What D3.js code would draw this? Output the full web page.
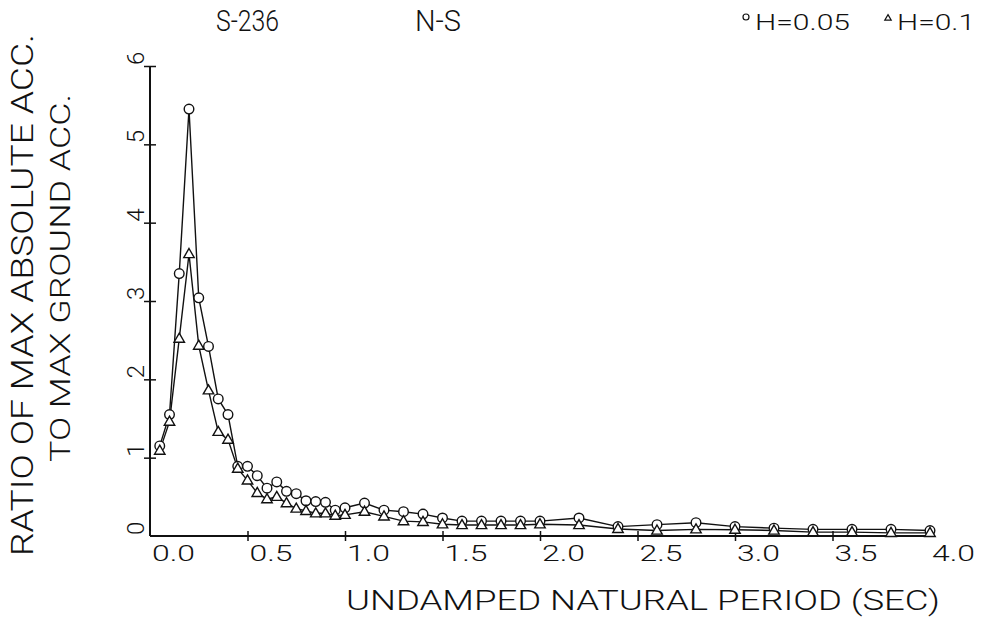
<!DOCTYPE html>
<html>
<head>
<meta charset="utf-8">
<script src="https://cdn.jsdelivr.net/npm/d3@7"></script>
<style>
  html, body { margin: 0; padding: 0; background: #fff; }
  svg text { font-family: Roboto, "DejaVu Sans", sans-serif; font-weight: 300; fill: #111; }
</style>
</head>
<body>
<svg id="chart" width="981" height="629"></svg>
<script>
// ---- data ----
const periods = [0.05,0.10,0.15,0.20,0.25,0.30,0.35,0.40,0.45,0.50,0.55,0.60,0.65,0.70,0.75,0.80,0.85,0.90,0.95,1.0,1.1,1.2,1.3,1.4,1.5,1.6,1.7,1.8,1.9,2.0,2.2,2.4,2.6,2.8,3.0,3.2,3.4,3.6,3.8,4.0];
const ratioH005 = [1.15,1.55,3.35,5.45,3.04,2.42,1.75,1.55,0.89,0.89,0.77,0.61,0.69,0.57,0.54,0.45,0.44,0.43,0.33,0.36,0.42,0.33,0.31,0.28,0.23,0.19,0.19,0.19,0.19,0.19,0.23,0.12,0.145,0.17,0.12,0.10,0.085,0.085,0.085,0.07];
const ratioH01  = [1.09,1.46,2.52,3.60,2.43,1.86,1.33,1.23,0.86,0.71,0.55,0.47,0.50,0.42,0.35,0.32,0.29,0.29,0.26,0.27,0.31,0.25,0.19,0.18,0.15,0.14,0.14,0.14,0.14,0.15,0.14,0.09,0.07,0.085,0.08,0.07,0.05,0.05,0.04,0.04];
const xTicks = [0,0.5,1.0,1.5,2.0,2.5,3.0,3.5,4.0];
const xTickLabels = ["0.0","0.5","1.0","1.5","2.0","2.5","3.0","3.5","4.0"];
const yTicks = [0,1,2,3,4,5,6];
const yTickLabels = ["0","1","2","3","4","5","6"];
const titleLeft = "S-236";
const titleMid = "N-S";
const legendLabels = ["H=0.05","H=0.1"];
const xTitle = "UNDAMPED NATURAL PERIOD (SEC)";
const yTitle1 = "RATIO OF MAX ABSOLUTE ACC.";
const yTitle2 = "TO MAX GROUND ACC.";

// ---- layout ----
const svg = d3.select("#chart");
const x = d3.scaleLinear().domain([0, 4]).range([150, 930]);
const y = d3.scaleLinear().domain([0, 6]).range([536, 66]);
const ink = "#111";

// axes
const xAxis = d3.axisBottom(x).tickValues(xTicks).tickSize(0).tickFormat("");
const gx = svg.append("g").attr("transform", `translate(0,${y(0)})`).call(xAxis);
gx.select(".domain").attr("stroke", ink).attr("stroke-width", 2).attr("d", `M${x(0)},0H${x(4)+3}`);
gx.selectAll(".tick line").attr("y1", -5).attr("y2", 5).attr("stroke", ink).attr("stroke-width", 1.5);
gx.selectAll(".tick").filter(d => d === 0 || d === 4).select("line").remove();

const yAxis = d3.axisLeft(y).tickValues(yTicks).tickSize(0).tickFormat("");
const gy = svg.append("g").attr("transform", `translate(${x(0)},0)`).call(yAxis);
gy.select(".domain").attr("stroke", ink).attr("stroke-width", 2).attr("d", `M0,${y(0)}V${y(6)}`);
gy.selectAll(".tick line").attr("x1", -6).attr("x2", 6).attr("stroke", ink).attr("stroke-width", 1.5);
gy.selectAll(".tick").filter(d => d === 0).select("line").remove();

// x tick labels (left-aligned at tick)
svg.append("g").selectAll("text").data(xTicks).join("text")
  .attr("x", d => x(d) + 2)
  .attr("y", 561)
  .attr("font-size", 22)
  .attr("textLength", 43)
  .attr("lengthAdjust", "spacingAndGlyphs")
  .text((d, i) => xTickLabels[i]);

// y tick labels (rotated, starting at tick)
svg.append("g").selectAll("text").data(yTicks).join("text")
  .attr("transform", d => `translate(144,${y(d) - 1}) rotate(-90)`)
  .attr("font-size", 24)
  .text((d, i) => yTickLabels[i]);

// lines
const line = d3.line().x(d => x(d[0])).y(d => y(d[1]));
const s1 = periods.map((p, i) => [p, ratioH005[i]]);
const s2 = periods.map((p, i) => [p, ratioH01[i]]);
[s1, s2].forEach(s => {
  svg.append("path").datum(s).attr("d", line)
    .attr("fill", "none").attr("stroke", ink).attr("stroke-width", 1.4);
});

// markers
const tri = r => `M0,${-r}L${r*0.95},${r*0.65}L${-r*0.95},${r*0.65}Z`;
svg.append("g").selectAll("circle").data(s1).join("circle")
  .attr("cx", d => x(d[0])).attr("cy", d => y(d[1])).attr("r", 4.8)
  .attr("fill", "#fff").attr("stroke", ink).attr("stroke-width", 1.4);
svg.append("g").selectAll("path").data(s2).join("path")
  .attr("transform", d => `translate(${x(d[0])},${y(d[1])})`)
  .attr("d", tri(5.5))
  .attr("fill", "#fff").attr("stroke", ink).attr("stroke-width", 1.4);

// titles
svg.append("text").attr("x", 216).attr("y", 31).attr("font-size", 29)
  .attr("textLength", 63).attr("lengthAdjust", "spacingAndGlyphs").text(titleLeft);
svg.append("text").attr("x", 415).attr("y", 31).attr("font-size", 29)
  .attr("textLength", 46).attr("lengthAdjust", "spacingAndGlyphs").text(titleMid);

// legend
svg.append("circle").attr("cx", 746).attr("cy", 17).attr("r", 3)
  .attr("fill", "none").attr("stroke", ink).attr("stroke-width", 1.2);
svg.append("text").attr("x", 755).attr("y", 30).attr("font-size", 22)
  .attr("textLength", 95).attr("lengthAdjust", "spacingAndGlyphs").text(legendLabels[0]);
svg.append("path").attr("transform", "translate(888,18)").attr("d", tri(3.4))
  .attr("fill", "none").attr("stroke", ink).attr("stroke-width", 1.2);
svg.append("text").attr("x", 897).attr("y", 30).attr("font-size", 22)
  .attr("textLength", 78).attr("lengthAdjust", "spacingAndGlyphs").text(legendLabels[1]);

// axis titles
svg.append("text").attr("x", 346).attr("y", 610).attr("font-size", 28)
  .attr("textLength", 594).attr("lengthAdjust", "spacingAndGlyphs").text(xTitle);
svg.append("text").attr("transform", "translate(33,556) rotate(-90)").attr("font-size", 32)
  .attr("textLength", 522).attr("lengthAdjust", "spacingAndGlyphs").text(yTitle1);
svg.append("text").attr("transform", "translate(70,462) rotate(-90)").attr("font-size", 28)
  .attr("textLength", 368).attr("lengthAdjust", "spacingAndGlyphs").text(yTitle2);
</script>
</body>
</html>
